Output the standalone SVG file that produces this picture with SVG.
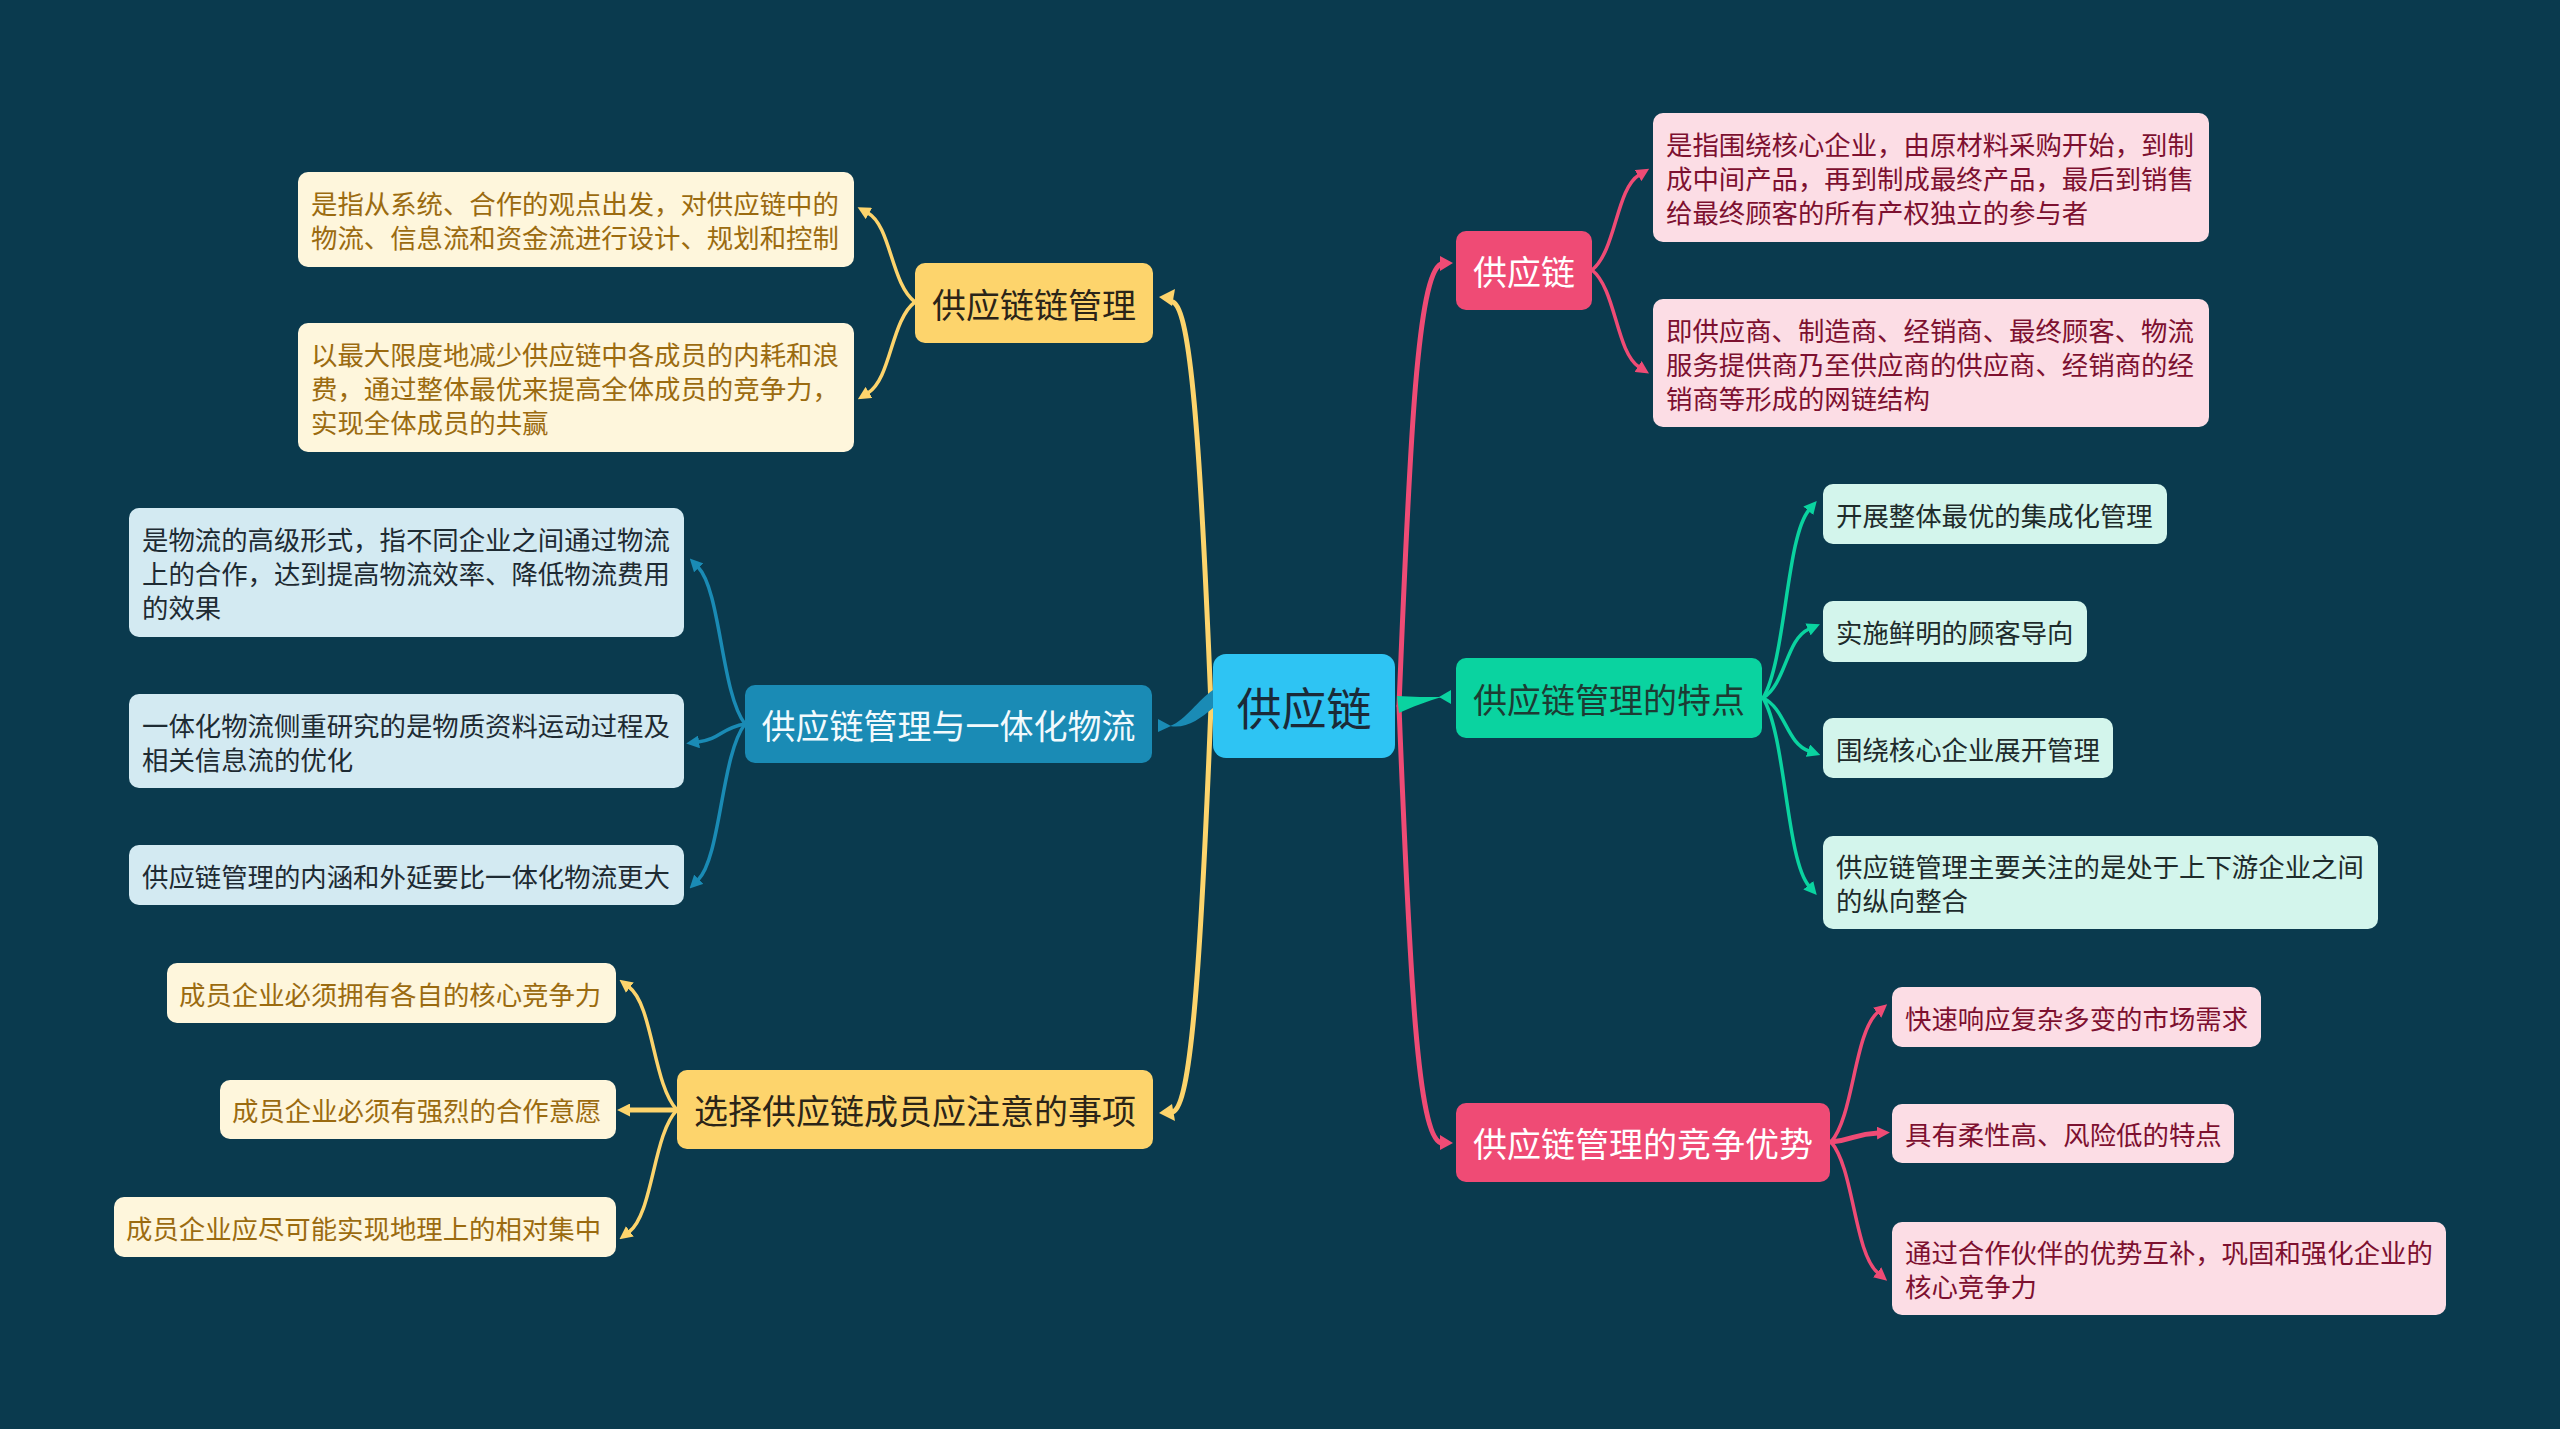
<svg xmlns="http://www.w3.org/2000/svg" width="2560" height="1429" viewBox="0 0 2560 1429">
<defs>
<style>
text{font-family:"Noto Sans CJK SC","Noto Sans",sans-serif;dominant-baseline:central}
.t26{font-size:26.4px}
.t34{font-size:34px;text-anchor:middle}
.t45{font-size:45px;text-anchor:middle}
.cy{fill:#FEF6DC}.ty{fill:#9B6B10}
.my{fill:#FDD46C}.tmy{fill:#2B2418}
.cb{fill:#D3EAF2}.tb{fill:#1E2B33}
.mb{fill:#1A8BB5}.tmb{fill:#F2FAFD}
.cp{fill:#FCDDE5}.tp{fill:#7D1030}
.mp{fill:#EF4B75}.tmp{fill:#FFFFFF}
.cg{fill:#D3F5EC}.tg{fill:#1E2B2B}
.mg{fill:#0AD3A0}.tmg{fill:#1D3B33}
.ly{stroke:#FDD46C;fill:none}
.lb{stroke:#1A8BB5;fill:none}
.lp{stroke:#EF4B75;fill:none}
.lg{stroke:#0AD3A0;fill:none}
.main{stroke-width:5;stroke-linecap:round}
.leaf{stroke-width:3.5;stroke-linecap:round}
</style>
<marker id="ay" viewBox="0 0 12 12" refX="1" refY="6" markerWidth="13" markerHeight="13" markerUnits="userSpaceOnUse" orient="auto"><path d="M0,0 L12,6 L0,12 Z" fill="#FDD46C"/></marker>
<marker id="ab" viewBox="0 0 12 12" refX="1" refY="6" markerWidth="13" markerHeight="13" markerUnits="userSpaceOnUse" orient="auto"><path d="M0,0 L12,6 L0,12 Z" fill="#1A8BB5"/></marker>
<marker id="ap" viewBox="0 0 12 12" refX="1" refY="6" markerWidth="13" markerHeight="13" markerUnits="userSpaceOnUse" orient="auto"><path d="M0,0 L12,6 L0,12 Z" fill="#EF4B75"/></marker>
<marker id="ag" viewBox="0 0 12 12" refX="1" refY="6" markerWidth="13" markerHeight="13" markerUnits="userSpaceOnUse" orient="auto"><path d="M0,0 L12,6 L0,12 Z" fill="#0AD3A0"/></marker>
</defs>
<rect x="0" y="0" width="2560" height="1429" fill="#0A3A4E"/>

<g id="connectors">
  <path class="ly main" d="M1211,706 C1200,430 1190,310 1173,302"/>
  <polygon points="1159,297 1175,289 1172,306" fill="#FDD46C"/>
  <path class="ly main" d="M1211,706 C1200,985 1190,1105 1173,1112"/>
  <polygon points="1159,1113 1172,1104 1175,1121" fill="#FDD46C"/>
  <path d="M1213,690 C1198,700 1186,720 1170,726 C1186,729 1200,719 1213,708 Z" fill="#1A8BB5"/>
  <polygon points="1158,719 1158,732 1171,726" fill="#1A8BB5"/>
  <path class="lp main" d="M1399,706 C1410,430 1418,275 1441,264"/>
  <polygon points="1453,263 1440,256 1440,271" fill="#EF4B75"/>
  <path class="lp main" d="M1399,706 C1410,985 1418,1136 1441,1143"/>
  <polygon points="1453,1143 1440,1135 1440,1150" fill="#EF4B75"/>
  <path d="M1397,696 C1412,697 1428,697 1442,697 C1428,701 1412,707 1399,713 Z" fill="#0AD3A0"/>
  <polygon points="1451,690 1451,704 1439,697" fill="#0AD3A0"/>

  <path class="ly leaf" marker-end="url(#ay)" d="M915,302 C891,284 891,226 868,213"/>
  <path class="ly leaf" marker-end="url(#ay)" d="M915,302 C891,320 891,379 868,393"/>
  <path class="lb leaf" marker-end="url(#ab)" d="M745,724 C721,693 721,591 698,567"/>
  <path class="lb leaf" marker-end="url(#ab)" d="M745,724 C721,728 721,739 698,742"/>
  <path class="lb leaf" marker-end="url(#ab)" d="M745,724 C721,755 721,857 698,880"/>
  <path class="ly leaf" marker-end="url(#ay)" d="M677,1110 C653,1085 653,1005 629,987"/>
  <path class="ly leaf" marker-end="url(#ay)" d="M677,1110 L629,1110" style="stroke-width:5"/>
  <path class="ly leaf" marker-end="url(#ay)" d="M677,1110 C653,1134 653,1214 629,1232"/>
  <path class="lp leaf" marker-end="url(#ap)" d="M1592,270 C1616,251 1616,189 1639,175"/>
  <path class="lp leaf" marker-end="url(#ap)" d="M1592,270 C1616,289 1616,352 1639,367"/>
  <path class="lg leaf" marker-end="url(#ag)" d="M1763,698 C1786,660 1786,537 1809,510"/>
  <path class="lg leaf" marker-end="url(#ag)" d="M1763,698 C1786,684 1786,639 1809,629"/>
  <path class="lg leaf" marker-end="url(#ag)" d="M1763,698 C1786,709 1786,743 1809,751"/>
  <path class="lg leaf" marker-end="url(#ag)" d="M1763,698 C1786,736 1786,859 1809,886"/>
  <path class="lp leaf" marker-end="url(#ap)" d="M1831,1142 C1854,1116 1854,1032 1878,1012"/>
  <path class="lp leaf" marker-end="url(#ap)" d="M1831,1142 C1854,1140 1854,1134 1878,1133" style="stroke-width:5"/>
  <path class="lp leaf" marker-end="url(#ap)" d="M1831,1142 C1854,1168 1854,1253 1878,1273"/>
</g>

<g id="root">
  <rect x="1213" y="654" width="182" height="104" rx="13" fill="#2EC4F3"/>
  <text class="t45" x="1304" y="706" fill="#1B2A38">供应链</text>
</g>

<g id="n-gylgl">
  <rect class="my" x="915" y="263" width="238" height="80" rx="10"/>
  <text class="t34 tmy" x="1034" y="303">供应链链管理</text>
</g>
<g id="n-gylgl-1">
  <rect class="cy" x="298" y="172" width="556" height="95" rx="10"/>
  <text class="t26 ty" x="311" y="202.5">是指从系统、合作的观点出发，对供应链中的</text>
  <text class="t26 ty" x="311" y="236.5">物流、信息流和资金流进行设计、规划和控制</text>
</g>
<g id="n-gylgl-2">
  <rect class="cy" x="298" y="323" width="556" height="129" rx="10"/>
  <text class="t26 ty" x="311" y="353.5">以最大限度地减少供应链中各成员的内耗和浪</text>
  <text class="t26 ty" x="311" y="387.5">费，通过整体最优来提高全体成员的竞争力，</text>
  <text class="t26 ty" x="311" y="421.5">实现全体成员的共赢</text>
</g>

<g id="n-ythwl">
  <rect class="mb" x="745" y="685" width="407" height="78" rx="10"/>
  <text class="t34 tmb" x="948.5" y="724">供应链管理与一体化物流</text>
</g>
<g id="n-ythwl-1">
  <rect class="cb" x="129" y="508" width="555" height="129" rx="10"/>
  <text class="t26 tb" x="142" y="538.5">是物流的高级形式，指不同企业之间通过物流</text>
  <text class="t26 tb" x="142" y="572.5">上的合作，达到提高物流效率、降低物流费用</text>
  <text class="t26 tb" x="142" y="606.5">的效果</text>
</g>
<g id="n-ythwl-2">
  <rect class="cb" x="129" y="694" width="555" height="94" rx="10"/>
  <text class="t26 tb" x="142" y="724">一体化物流侧重研究的是物质资料运动过程及</text>
  <text class="t26 tb" x="142" y="758">相关信息流的优化</text>
</g>
<g id="n-ythwl-3">
  <rect class="cb" x="129" y="845" width="555" height="60" rx="10"/>
  <text class="t26 tb" x="142" y="875">供应链管理的内涵和外延要比一体化物流更大</text>
</g>

<g id="n-xz">
  <rect class="my" x="677" y="1070" width="476" height="79" rx="10"/>
  <text class="t34 tmy" x="915" y="1109.5">选择供应链成员应注意的事项</text>
</g>
<g id="n-xz-1">
  <rect class="cy" x="167" y="963" width="449" height="60" rx="10"/>
  <text class="t26 ty" x="179" y="993">成员企业必须拥有各自的核心竞争力</text>
</g>
<g id="n-xz-2">
  <rect class="cy" x="220" y="1080" width="396" height="59" rx="10"/>
  <text class="t26 ty" x="232" y="1109.5">成员企业必须有强烈的合作意愿</text>
</g>
<g id="n-xz-3">
  <rect class="cy" x="114" y="1197" width="502" height="60" rx="10"/>
  <text class="t26 ty" x="126" y="1227">成员企业应尽可能实现地理上的相对集中</text>
</g>

<g id="n-gyl">
  <rect class="mp" x="1456" y="231" width="136" height="79" rx="10"/>
  <text class="t34 tmp" x="1524" y="270.5">供应链</text>
</g>
<g id="n-gyl-1">
  <rect class="cp" x="1653" y="113" width="556" height="129" rx="10"/>
  <text class="t26 tp" x="1666" y="143.5">是指围绕核心企业，由原材料采购开始，到制</text>
  <text class="t26 tp" x="1666" y="177.5">成中间产品，再到制成最终产品，最后到销售</text>
  <text class="t26 tp" x="1666" y="211.5">给最终顾客的所有产权独立的参与者</text>
</g>
<g id="n-gyl-2">
  <rect class="cp" x="1653" y="299" width="556" height="128" rx="10"/>
  <text class="t26 tp" x="1666" y="329">即供应商、制造商、经销商、最终顾客、物流</text>
  <text class="t26 tp" x="1666" y="363">服务提供商乃至供应商的供应商、经销商的经</text>
  <text class="t26 tp" x="1666" y="397">销商等形成的网链结构</text>
</g>

<g id="n-td">
  <rect class="mg" x="1456" y="658" width="306" height="80" rx="10"/>
  <text class="t34 tmg" x="1609" y="698">供应链管理的特点</text>
</g>
<g id="n-td-1">
  <rect class="cg" x="1823" y="484" width="344" height="60" rx="10"/>
  <text class="t26 tg" x="1836" y="514">开展整体最优的集成化管理</text>
</g>
<g id="n-td-2">
  <rect class="cg" x="1823" y="601" width="264" height="61" rx="10"/>
  <text class="t26 tg" x="1836" y="631.5">实施鲜明的顾客导向</text>
</g>
<g id="n-td-3">
  <rect class="cg" x="1823" y="718" width="290" height="60" rx="10"/>
  <text class="t26 tg" x="1836" y="748">围绕核心企业展开管理</text>
</g>
<g id="n-td-4">
  <rect class="cg" x="1823" y="836" width="555" height="93" rx="10"/>
  <text class="t26 tg" x="1836" y="865.5">供应链管理主要关注的是处于上下游企业之间</text>
  <text class="t26 tg" x="1836" y="899.5">的纵向整合</text>
</g>

<g id="n-ys">
  <rect class="mp" x="1456" y="1103" width="374" height="79" rx="10"/>
  <text class="t34 tmp" x="1643" y="1142.5">供应链管理的竞争优势</text>
</g>
<g id="n-ys-1">
  <rect class="cp" x="1892" y="987" width="369" height="60" rx="10"/>
  <text class="t26 tp" x="1905" y="1017">快速响应复杂多变的市场需求</text>
</g>
<g id="n-ys-2">
  <rect class="cp" x="1892" y="1104" width="342" height="59" rx="10"/>
  <text class="t26 tp" x="1905" y="1133.5">具有柔性高、风险低的特点</text>
</g>
<g id="n-ys-3">
  <rect class="cp" x="1892" y="1222" width="554" height="93" rx="10"/>
  <text class="t26 tp" x="1905" y="1251.5">通过合作伙伴的优势互补，巩固和强化企业的</text>
  <text class="t26 tp" x="1905" y="1285.5">核心竞争力</text>
</g>
</svg>
